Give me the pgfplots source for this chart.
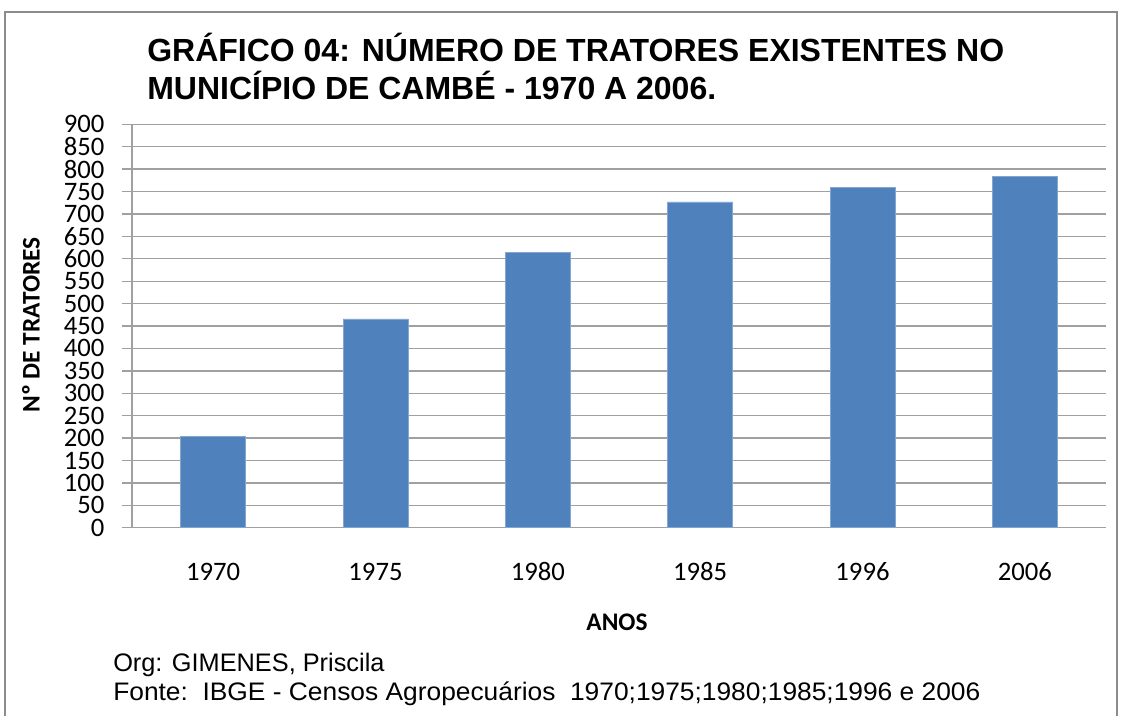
\documentclass[border=0pt]{standalone}
\usepackage{pgfplots}
\pgfplotsset{compat=1.18}
\usepackage{fontspec}
\setmainfont{Liberation Sans}
\newfontfamily\tickfont{Carlito}
\newfontfamily\fontefont[FakeStretch=1.04]{Liberation Sans}
\definecolor{barblue}{HTML}{4F81BD}
\definecolor{gridgray}{HTML}{A0A0A0}
\definecolor{framegray}{HTML}{8C8C8C}
\pgfplotstableread{
x val
0 203
1 466
2 615
3 727
4 759
5 784
}\tratores
\begin{document}
\begin{tikzpicture}[x=0.75pt,y=0.75pt]
\useasboundingbox (0,0) rectangle (1122,716);
\fill[white] (0,0) rectangle (1122,716);
\draw[framegray,line width=1.5pt] (5,-20) -- (5,704) -- (1117,704) -- (1117,-20);
\begin{axis}[
  at={(99pt,141.2pt)}, anchor=south west,
  scale only axis, width=730.5pt, height=302.55pt,
  xmin=-0.5, xmax=5.5, ymin=0, ymax=900,
  ytick={0,50,...,900},
  xtick={0,...,5},
  xticklabels={1970,1975,1980,1985,1996,2006},
  major x tick style={draw=none},
  ymajorgrids, grid style={gridgray, line width=1pt},
  axis line style={gridgray, line width=1pt},
  axis x line*=bottom, axis y line*=left,
  x axis line style={-}, y axis line style={-},
  y tick style={gridgray, line width=1pt},
  tick align=outside, major tick length=7.5pt,
  tick label style={font=\tickfont\fontsize{20}{20}\selectfont},
  /pgf/number format/assume math mode=true,
  yticklabel style={inner sep=0pt, xshift=-13pt},
  xticklabel style={inner sep=0pt, anchor=base, yshift=-31.75pt},
]
\addplot[ybar, bar width=0.4, fill=barblue, draw=barblue!70!white] table[x=x,y=val]{\tratores};
\end{axis}
\node[anchor=base west, inner sep=0pt, font=\bfseries\fontsize{24}{24}\selectfont] at (147,654) {GRÁFICO 04: NÚMERO DE TRATORES EXISTENTES NO};
\node[anchor=base west, inner sep=0pt, font=\bfseries\fontsize{24}{24}\selectfont] at (147,616) {MUNICÍPIO DE CAMBÉ - 1970 A 2006.};
\node[rotate=90, inner sep=0pt, font=\tickfont\bfseries\fontsize{19}{19}\selectfont] at (31,391) {Nº DE TRATORES};
\node[inner sep=0pt, font=\tickfont\bfseries\fontsize{19}{19}\selectfont] at (617,94) {ANOS};
\node[anchor=base west, inner sep=0pt, font=\fontsize{19}{19}\selectfont] at (113,44) {Org: GIMENES, Priscila};
\node[anchor=base west, inner sep=0pt, font=\fontefont\fontsize{19}{19}\selectfont] at (113,15) {Fonte:\ \ IBGE - Censos Agropecuários\ \ 1970;1975;1980;1985;1996 e 2006};
\end{tikzpicture}
\end{document}
